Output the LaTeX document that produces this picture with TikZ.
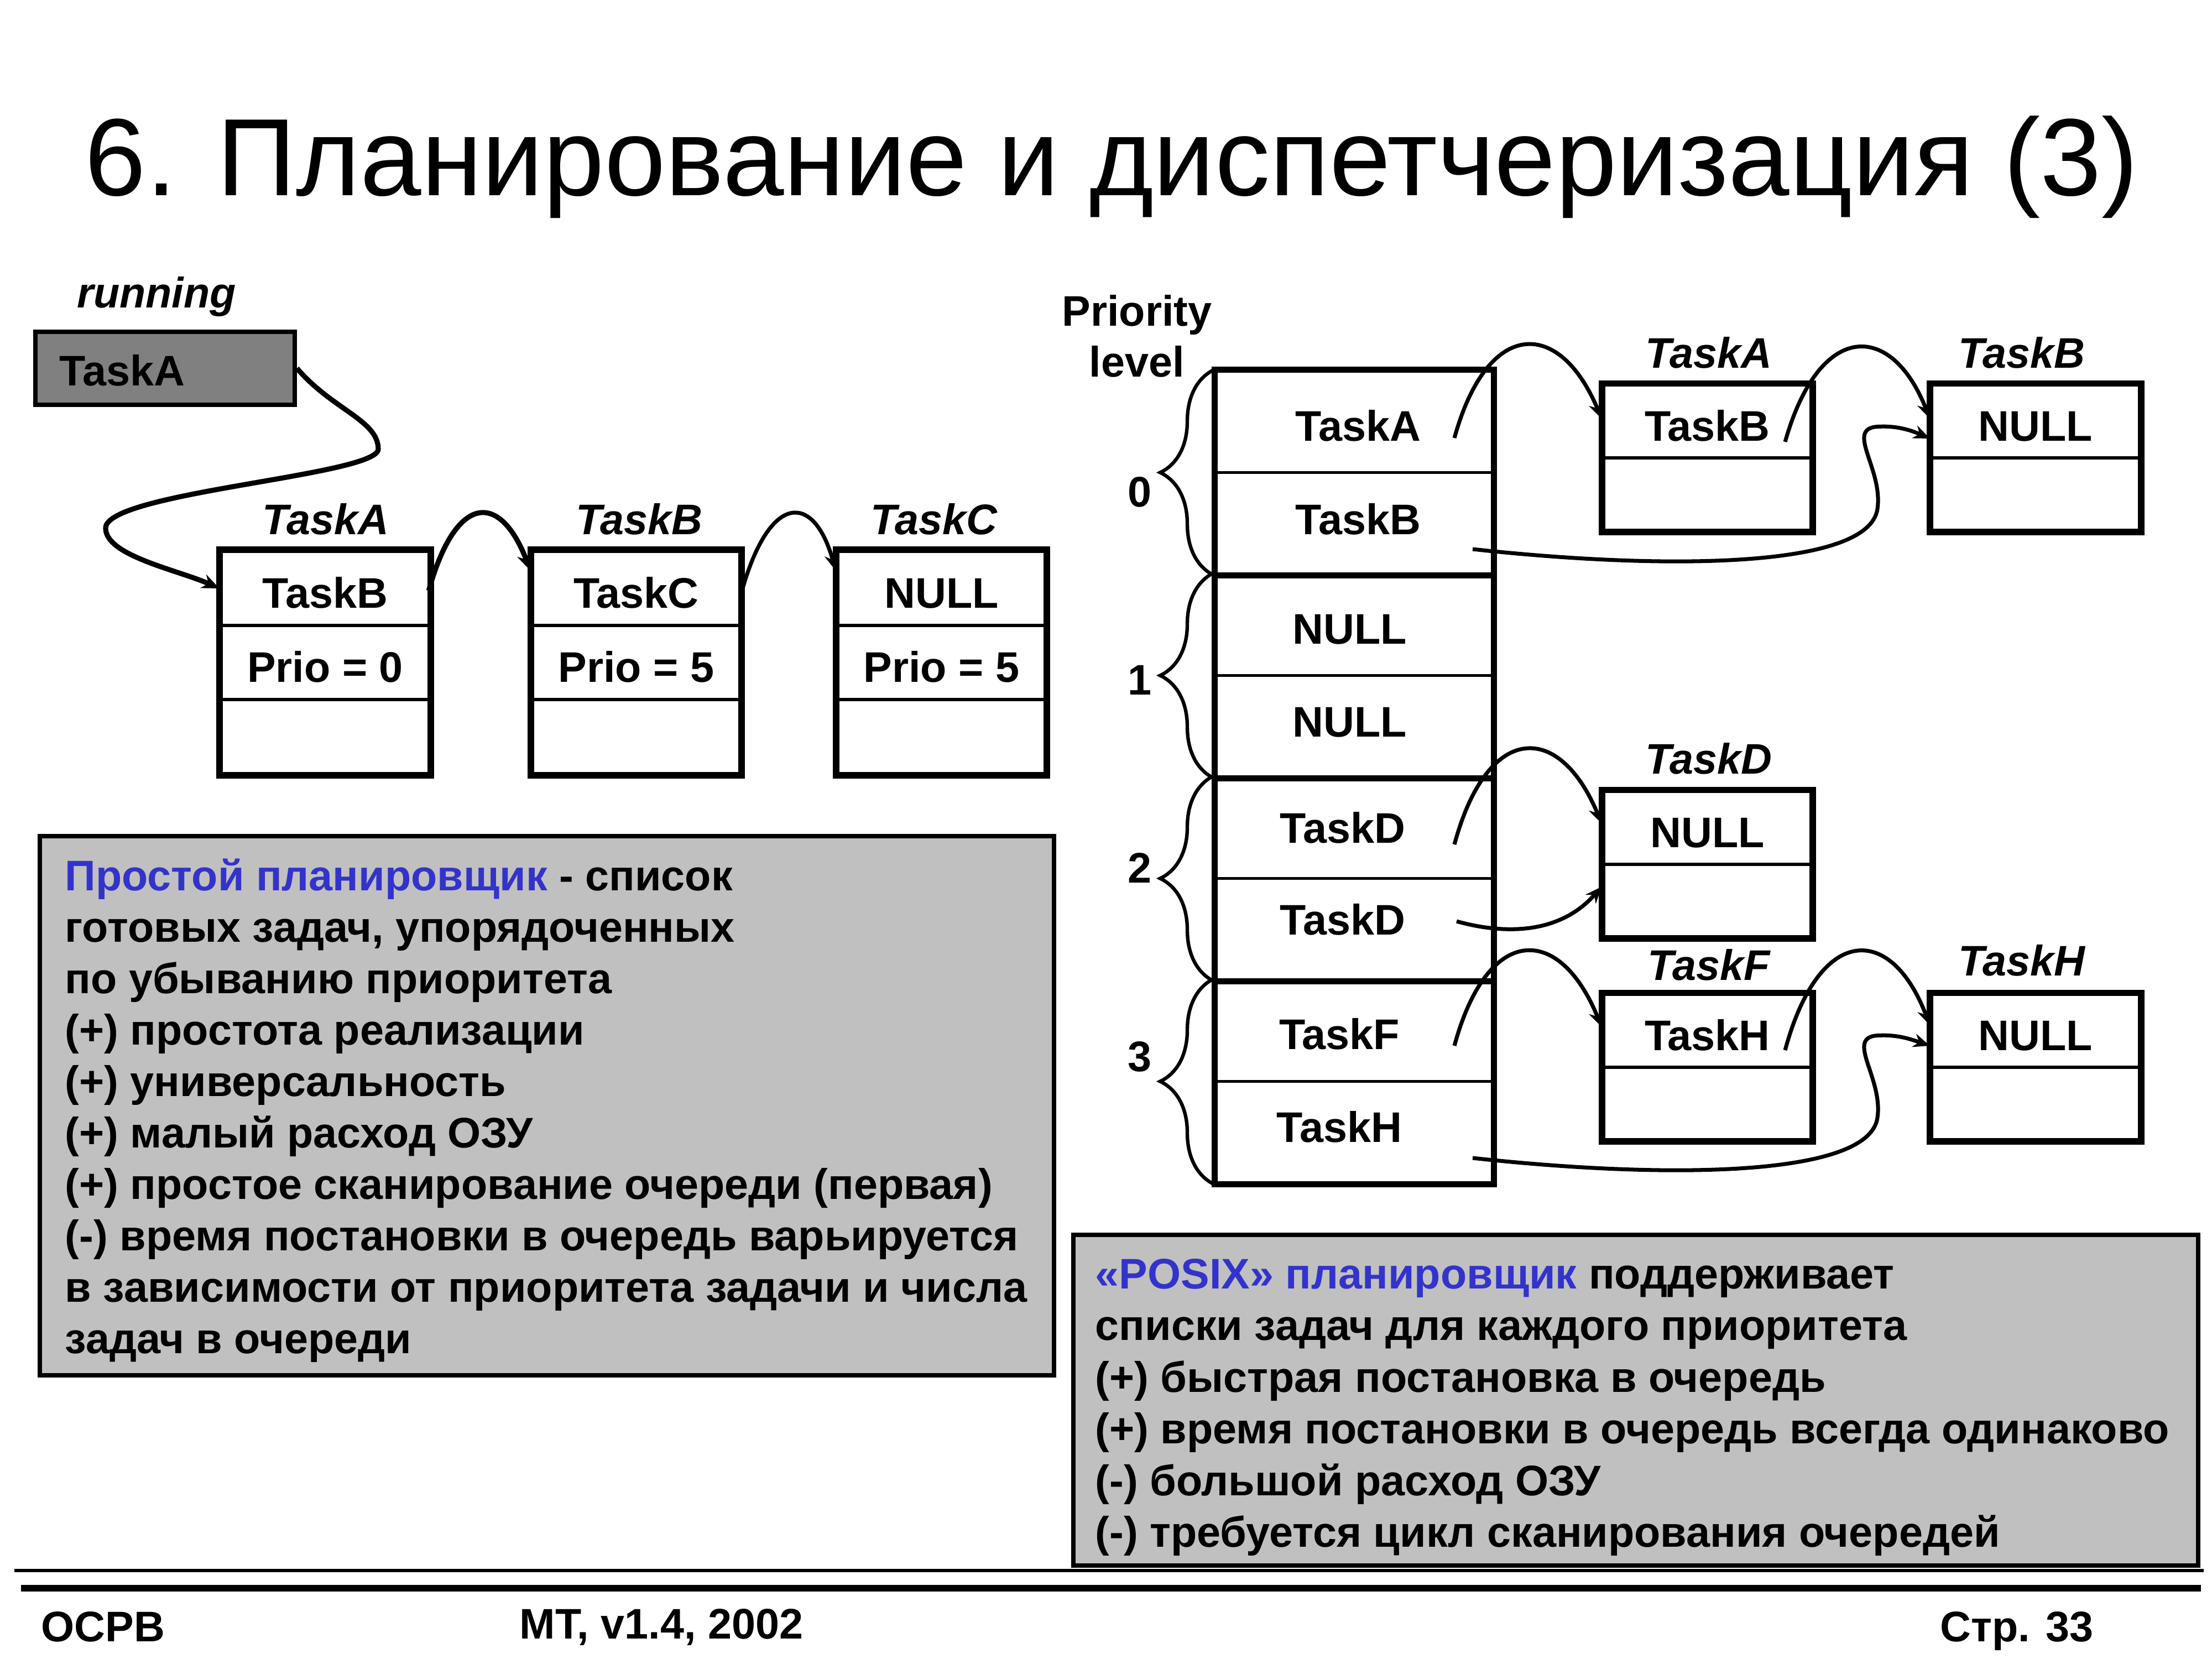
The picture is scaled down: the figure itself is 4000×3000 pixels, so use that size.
\documentclass[tikz,border=0pt]{standalone}
\usepackage{fontspec}
\setmainfont{Liberation Sans}
\usetikzlibrary{arrows.meta,calc,decorations.pathreplacing}
\definecolor{blu}{HTML}{3333CC}
\definecolor{boxgray}{HTML}{C0C0C0}
\definecolor{darkg}{HTML}{808080}
\newcommand\lowr[1]{\raisebox{-10.2pt}[0pt][0pt]{#1}}
\tikzset{
  txt/.style={inner sep=0pt, font=\fontsize{22pt}{26.2pt}\selectfont\bfseries},
  lbl/.style={inner sep=0pt, font=\fontsize{22pt}{26.2pt}\selectfont\bfseries\itshape},
  cell/.style={draw, line width=1.8pt, minimum width=3.76cm, minimum height=1.34cm, inner sep=0pt, font=\fontsize{22pt}{26.2pt}\selectfont\bfseries},
  rcell/.style={draw, line width=1.8pt, minimum width=3.76cm, minimum height=1.315cm, inner sep=0pt, font=\fontsize{22pt}{26.2pt}\selectfont\bfseries},
  ccell/.style={draw, line width=1.6pt, minimum width=5cm, minimum height=1.835cm, inner sep=0pt},
  outer/.style={line width=3.1pt},
  conn/.style={line width=2pt, -{Stealth[length=8.5pt,width=7pt]}},
  connb/.style={line width=2.6pt, -{Stealth[length=9pt,width=7.5pt]}},
  brc/.style={line width=1.8pt, decorate, decoration={brace, amplitude=0.98cm}},
  textline/.style={anchor=base west, inner sep=0pt, font=\fontsize{22pt}{26.2pt}\selectfont\bfseries},
}
\begin{document}
\begin{tikzpicture}[x=0.01cm,y=-0.01cm]
\useasboundingbox (0,0) rectangle (4000,3000);
\fill[white] (0,0) rectangle (4000,3000);

% title
\node[anchor=base west, inner sep=0pt, font=\fontsize{56.5pt}{60pt}\selectfont] (title) at (153,353) {6. Планирование и диспетчеризация (3)};

% ---------- left part ----------
\node[lbl] (running) at (283,536) {running};
\node[draw, line width=2.2pt, fill=darkg, minimum width=4.69cm, minimum height=1.32cm, inner sep=0pt] (run) at (298.5,666) {};
\node[txt, anchor=west] (runT) at (107,670) {TaskA};

% list node 1
\node[cell] (b1a) at (588,1064) {\lowr{TaskB}};
\node[cell] (b1b) at (588,1198) {\lowr{Prio = 0}};
\node[cell] (b1c) at (588,1332) {};
\draw[outer] (b1a.north west) rectangle (b1c.south east);
\node[lbl] (l1) at (589,939) {TaskA};
% list node 2
\node[cell] (b2a) at (1150.5,1064) {\lowr{TaskC}};
\node[cell] (b2b) at (1150.5,1198) {\lowr{Prio = 5}};
\node[cell] (b2c) at (1150.5,1332) {};
\draw[outer] (b2a.north west) rectangle (b2c.south east);
\node[lbl] (l2) at (1156,939) {TaskB};
% list node 3
\node[cell] (b3a) at (1702.5,1064) {\lowr{NULL}};
\node[cell] (b3b) at (1702.5,1198) {\lowr{Prio = 5}};
\node[cell] (b3c) at (1702.5,1332) {};
\draw[outer] (b3a.north west) rectangle (b3c.south east);
\node[lbl] (l3) at (1689,939) {TaskC};

% connectors left
\draw[connb] (run.east) .. controls (600,740) and (684,760) .. (684,812)
  .. controls (684,860) and (191,890) .. (191,955)
  .. controls (191,1005) and (320,1030) .. ($(b1a.west)+(0,0)$);
\draw[connb] ($(b1a.east)+(-4,4)$) .. controls (825,890) and (905,890) .. ($(b2a.west)+(0,-32)$);
\draw[conn] ($(b2a.east)+(0,4)$) .. controls (1392,890) and (1472,890) .. ($(b3a.west)+(0,-32)$);

% left text box
\draw[line width=2.2pt, fill=boxgray] (72,1512) rectangle (1906,2487);
\node[textline] (t1) at (117,1610) {{\color{blu}Простой планировщик} - список};
\node[textline] (t2) at (117,1703) {готовых задач, упорядоченных};
\node[textline] (t3) at (117,1796) {по убыванию приоритета};
\node[textline] (t4) at (117,1889) {(+) простота реализации};
\node[textline] (t5) at (117,1982) {(+) универсальность};
\node[textline] (t6) at (117,2075) {(+) малый расход ОЗУ};
\node[textline] (t7) at (117,2168) {(+) простое сканирование очереди (первая)};
\node[textline] (t8) at (117,2261) {(-) время постановки в очередь варьируется};
\node[textline] (t9) at (117,2354) {в зависимости от приоритета задачи и числа};
\node[textline] (t10) at (117,2447) {задач в очереди};

% ---------- right part ----------
\node[txt, align=center] (prio) at (2056,608) {Priority\\level};

% column cells
\node[ccell] (c1) at (2449,762.75) {};
\node[ccell] (c2) at (2449,946.25) {};
\node[ccell] (c3) at (2449,1129.75) {};
\node[ccell] (c4) at (2449,1313.25) {};
\node[ccell] (c5) at (2449,1496.75) {};
\node[ccell] (c6) at (2449,1680.25) {};
\node[ccell] (c7) at (2449,1863.75) {};
\node[ccell] (c8) at (2449,2047.25) {};
\draw[outer] (c1.north west) rectangle (c8.south east);
\draw[outer] (c2.south west) -- (c2.south east);
\draw[outer] (c4.south west) -- (c4.south east);
\draw[outer] (c6.south west) -- (c6.south east);
\node[txt] (ct1) at (2456,770) {TaskA};
\node[txt] (ct2) at (2456,939) {TaskB};
\node[txt] (ct3) at (2441,1138) {NULL};
\node[txt] (ct4) at (2441,1306) {NULL};
\node[txt] (ct5) at (2428,1497) {TaskD};
\node[txt] (ct6) at (2428,1663) {TaskD};
\node[txt] (ct7) at (2422,1870) {TaskF};
\node[txt] (ct8) at (2422,2038) {TaskH};

% braces
\draw[brc] (c2.south west) -- (c1.north west);
\draw[brc] (c4.south west) -- (c3.north west);
\draw[brc] (c6.south west) -- (c5.north west);
\draw[brc] (c8.south west) -- (c7.north west);
\node[txt] (n0) at (2061,890) {0};
\node[txt] (n1) at (2061,1230) {1};
\node[txt] (n2) at (2061,1569) {2};
\node[txt] (n3) at (2061,1911) {3};

% right list nodes
\node[rcell] (ra1) at (3087.5,762) {\lowr{TaskB}};
\node[rcell] (ra2) at (3087.5,893.5) {};
\draw[outer] (ra1.north west) rectangle (ra2.south east);
\node[lbl] (lra) at (3090,638) {TaskA};

\node[rcell] (rb1) at (3681,762) {\lowr{NULL}};
\node[rcell] (rb2) at (3681,893.5) {};
\draw[outer] (rb1.north west) rectangle (rb2.south east);
\node[lbl] (lrb) at (3656,638) {TaskB};

\node[rcell] (rd1) at (3087.5,1497) {\lowr{NULL}};
\node[rcell] (rd2) at (3087.5,1628.5) {};
\draw[outer] (rd1.north west) rectangle (rd2.south east);
\node[lbl] (lrd) at (3090,1372) {TaskD};

\node[rcell] (rf1) at (3087.5,1864) {\lowr{TaskH}};
\node[rcell] (rf2) at (3087.5,1995.5) {};
\draw[outer] (rf1.north west) rectangle (rf2.south east);
\node[lbl] (lrf) at (3090,1745) {TaskF};

\node[rcell] (rh1) at (3681,1864) {\lowr{NULL}};
\node[rcell] (rh2) at (3681,1995.5) {};
\draw[outer] (rh1.north west) rectangle (rh2.south east);
\node[lbl] (lrh) at (3656,1737) {TaskH};

% connector start points
\coordinate (sA) at (2630,792);
\coordinate (sB) at (2663,993);
\coordinate (sD1) at (2630,1527);
\coordinate (sD2) at (2634,1666);
\coordinate (sF) at (2630,1891);
\coordinate (sH) at (2663,2094);
\coordinate (sRA) at (3228,799);
\coordinate (sRF) at (3228,1899);

\draw[conn] (sA) .. controls (2690,575) and (2820,575) .. ($(ra1.west)+(0,-5)$);
\draw[conn] (sRA) .. controls (3290,580) and (3420,580) .. ($(rb1.west)+(0,-5)$);
\draw[conn] (sB) .. controls (3000,1030) and (3380,1030) .. (3395,920)
  .. controls (3405,850) and (3340,780) .. (3390,772)
  .. controls (3430,768) and (3460,780) .. ($(rb1.west)+(0,31)$);
\draw[conn] (sD1) .. controls (2690,1305) and (2820,1305) .. ($(rd1.west)+(0,-8)$);
\draw[conn] (sD2) .. controls (2720,1690) and (2820,1690) .. ($(rd2.west)+(0,-25)$);
\draw[conn] (sF) .. controls (2690,1670) and (2820,1670) .. ($(rf1.west)+(0,-7)$);
\draw[conn] (sRF) .. controls (3290,1670) and (3420,1670) .. ($(rh1.west)+(0,-10)$);
\draw[conn] (sH) .. controls (3000,2131) and (3380,2131) .. (3395,2021)
  .. controls (3405,1951) and (3340,1881) .. (3390,1873)
  .. controls (3430,1869) and (3460,1881) .. ($(rh1.west)+(0,27)$);

% right text box
\draw[line width=2.2pt, fill=boxgray] (1941,2233) rectangle (3975,2831);
\node[textline] (u1) at (1980,2330) {{\color{blu}«POSIX» планировщик} поддерживает};
\node[textline] (u2) at (1980,2423) {списки задач для каждого приоритета};
\node[textline] (u3) at (1980,2517) {(+) быстрая постановка в очередь};
\node[textline] (u4) at (1980,2610) {(+) время постановки в очередь всегда одинаково};
\node[textline] (u5) at (1980,2704) {(-) большой расход ОЗУ};
\node[textline] (u6) at (1980,2797) {(-) требуется цикл сканирования очередей};

% footer
\draw[line width=1.7pt] (26,2840) -- (3985,2840);
\draw[line width=3.4pt] (38,2872) -- (3980,2872);
\node[textline] (f1) at (74,2968) {ОСРВ};
\node[textline] (f2) at (939,2963) {МТ, v1.4, 2002};
\node[textline] (f3) at (3508,2968) {Стр. 33};
\end{tikzpicture}
\end{document}
